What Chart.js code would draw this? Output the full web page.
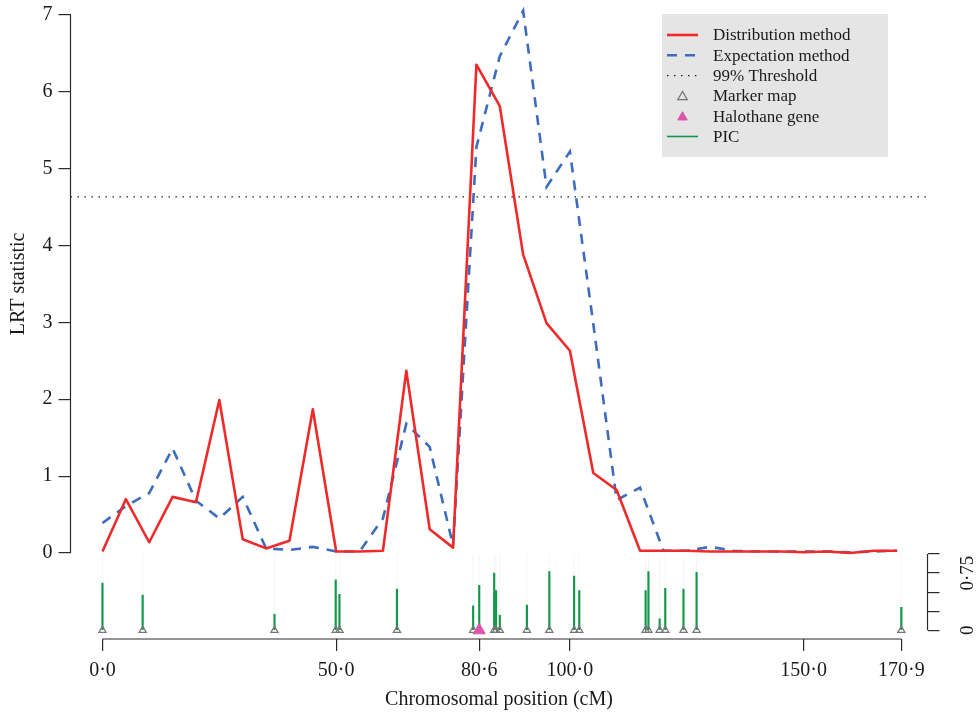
<!DOCTYPE html>
<html>
<head>
<meta charset="utf-8">
<title>LRT statistic along the chromosome</title>
<script src="https://cdn.jsdelivr.net/npm/chart.js@4.4.1/dist/chart.umd.min.js"></script>
<style>
  html, body { margin: 0; padding: 0; background: #fff; }
  #wrap { width: 976px; height: 714px; }
</style>
</head>
<body>
<div id="wrap"><canvas id="lrtChart" width="976" height="714"></canvas></div>
<script>
// test positions (cM)
const positions = [0, 5, 10, 15, 20, 25, 30, 35, 40, 45, 50, 55, 60, 65, 70, 75, 80, 85,
    90, 95, 100, 105, 110, 115, 120, 125, 130, 135, 140, 145, 150, 155, 160, 165, 170];
const distribution = [0.02, 0.70, 0.14, 0.73, 0.66, 1.99, 0.18, 0.06, 0.16, 1.87, 0.02, 0.02,
    0.03, 2.37, 0.31, 0.07, 6.35, 5.81, 3.88, 2.99, 2.63, 1.04, 0.82, 0.03, 0.03, 0.03, 0.02,
    0.02, 0.02, 0.02, 0.01, 0.02, 0.00, 0.03, 0.03];
const expectation = [0.39, 0.61, 0.78, 1.36, 0.68, 0.45, 0.73, 0.06, 0.04, 0.08, 0.02, 0.02,
    0.45, 1.68, 1.38, 0.10, 5.28, 6.46, 7.05, 4.76, 5.22, 2.98, 0.69, 0.85, 0.03, 0.03, 0.08,
    0.03, 0.02, 0.02, 0.02, 0.02, 0.01, 0.02, 0.03];
const threshold = 4.63;

// marker map and PIC of each marker
const markerPos = [0.0, 8.6, 36.8, 49.9, 50.7, 63.0, 79.3, 80.6, 83.8, 84.2, 85.0, 90.8,
    95.6, 100.9, 102.0, 116.2, 116.8, 119.2, 120.4, 124.3, 127.1, 170.9];
const picValues = [0.62, 0.46, 0.21, 0.66, 0.47, 0.54, 0.32, 0.59, 0.75, 0.52, 0.20, 0.33,
    0.77, 0.71, 0.52, 0.52, 0.77, 0.15, 0.55, 0.54, 0.76, 0.30];
const picMax = 1;
const halothanePos = [80.6];

// axis ticks
const xTicks = [0, 50, 80.6, 100, 150, 170.9];
const lrtTicks = [0, 1, 2, 3, 4, 5, 6, 7];
const picTicks = [0, 0.25, 0.5, 0.75, 1];
const picTickLabels = ['0', '', '', '0\u00b775', ''];

// axis limits (R style: 4% extra on the left of the map)
const xMin = -6.84, xMax = 176.5;
const lrtMin = -1.118, lrtMax = 7.191;
const picMin = -0.114, picAxisMax = 8.26;

const serif = '"Liberation Serif", "Times New Roman", serif';
const axisColor = '#2b2b2b';
Chart.defaults.font.family = serif;
Chart.defaults.font.size = 20;
Chart.defaults.color = '#1a1a1a';

function xy(xs, ys) {
    return xs.map(function (v, i) { return { x: v, y: ys[i] }; });
}

function fixedWidth(w) {
    return function (scale) {
        scale.width = w;
        scale.paddingTop = scale.paddingBottom = scale.paddingLeft = scale.paddingRight = 0;
    };
}

/* axis lines that only run from first to last tick, plus the y title */
const rAxes = {
    id: 'rAxes',
    afterDraw(chart) {
        const { ctx, chartArea, scales } = chart;
        ctx.save();
        ctx.strokeStyle = axisColor;
        ctx.lineWidth = 1.2;
        ctx.beginPath();
        ctx.moveTo(scales.x.getPixelForValue(xTicks[0]), chartArea.bottom);
        ctx.lineTo(scales.x.getPixelForValue(xTicks[xTicks.length - 1]), chartArea.bottom);
        ctx.moveTo(chartArea.left, scales.y.getPixelForValue(lrtTicks[0]));
        ctx.lineTo(chartArea.left, scales.y.getPixelForValue(lrtTicks[lrtTicks.length - 1]));
        ctx.moveTo(chartArea.right, scales.y2.getPixelForValue(picTicks[0]));
        ctx.lineTo(chartArea.right, scales.y2.getPixelForValue(picTicks[picTicks.length - 1]));
        ctx.stroke();

        const midY = (scales.y.getPixelForValue(0) + scales.y.getPixelForValue(7)) / 2;
        ctx.translate(19, midY);
        ctx.rotate(-Math.PI / 2);
        ctx.fillStyle = '#1a1a1a';
        ctx.font = '20px ' + serif;
        ctx.textAlign = 'center';
        ctx.textBaseline = 'middle';
        ctx.fillText('LRT statistic', 0, 0);
        ctx.restore();
    }
};

/* grey legend box in the top right corner */
const legendOrder = [0, 1, 2, 4, 3, 5];
const insetLegend = {
    id: 'insetLegend',
    afterDraw(chart) {
        const ctx = chart.ctx;
        ctx.save();
        ctx.fillStyle = '#e5e5e5';
        ctx.fillRect(662, 14, 226, 143);
        legendOrder.forEach(function (idx, row) {
            const ds = chart.data.datasets[idx];
            const y = 35 + row * 20.3;
            ctx.save();
            if (ds.pointStyle === 'triangle') {
                ctx.strokeStyle = ds.pointBorderColor;
                ctx.fillStyle = ds.pointBackgroundColor;
                ctx.lineWidth = ds.pointBorderWidth;
                Chart.helpers.drawPoint(ctx, { pointStyle: 'triangle', radius: 5.5, borderWidth: ds.pointBorderWidth }, 682.5, y + 1);
            } else {
                ctx.strokeStyle = ds.type === 'bar' ? ds.backgroundColor : ds.borderColor;
                ctx.lineWidth = ds.type === 'bar' ? 1.6 : ds.borderWidth;
                ctx.setLineDash(ds.borderDash || []);
                ctx.beginPath();
                ctx.moveTo(667, y);
                ctx.lineTo(698, y);
                ctx.stroke();
            }
            ctx.restore();
            ctx.fillStyle = '#1a1a1a';
            ctx.font = '17px ' + serif;
            ctx.textBaseline = 'middle';
            ctx.fillText(ds.label, 713, y + 1);
        });
        ctx.restore();
    }
};

const ctx = document.getElementById('lrtChart').getContext('2d');
const lrtChart = new Chart(ctx, {
    type: 'line',
    data: {
        datasets: [{
            label: 'Distribution method',
            data: xy(positions, distribution),
            borderColor: '#ee2a2a',
            borderWidth: 2.6,
            borderJoinStyle: 'round',
            pointRadius: 0,
            yAxisID: 'y'
        }, {
            label: 'Expectation method',
            data: xy(positions, expectation),
            borderColor: '#3d6cbc',
            borderWidth: 2.6,
            borderDash: [10, 8],
            pointRadius: 0,
            yAxisID: 'y'
        }, {
            label: '99% Threshold',
            data: [{ x: xMin, y: threshold }, { x: xMax, y: threshold }],
            borderColor: '#111',
            borderWidth: 1.3,
            borderDash: [1.4, 5.6],
            pointRadius: 0,
            yAxisID: 'y'
        }, {
            label: 'Halothane gene',
            data: halothanePos.map(function (p) { return { x: p, y: 0 }; }),
            showLine: false,
            pointStyle: 'triangle',
            pointRadius: 7,
            pointBorderWidth: 1,
            pointBorderColor: '#dd55aa',
            pointBackgroundColor: '#dd55aa',
            yAxisID: 'y2'
        }, {
            label: 'Marker map',
            data: markerPos.map(function (p) { return { x: p, y: 0 }; }),
            showLine: false,
            pointStyle: 'triangle',
            pointRadius: 4.2,
            pointBorderWidth: 1.2,
            pointBorderColor: '#767676',
            pointBackgroundColor: 'rgba(255,255,255,0)',
            yAxisID: 'y2'
        }, {
            type: 'bar',
            label: 'PIC',
            data: xy(markerPos, picValues),
            backgroundColor: '#13984a',
            barThickness: 1.5,
            yAxisID: 'y2'
        }, {
            type: 'bar',
            label: '',
            data: markerPos.map(function (p) { return { x: p, y: picMax }; }),
            backgroundColor: 'rgba(0,0,0,0.045)',
            grouped: false,
            maxBarThickness: 1,
            yAxisID: 'y2'
        }]
    },
    options: {
        responsive: false,
        animation: false,
        events: [],
        layout: { padding: 0, autoPadding: false },
        plugins: {
            legend: { display: false },
            tooltip: { enabled: false }
        },
        scales: {
            x: {
                type: 'linear',
                position: 'bottom',
                min: xMin,
                max: xMax,
                offset: false,
                afterBuildTicks: function (scale) {
                    scale.ticks = xTicks.map(function (v) { return { value: v }; });
                },
                afterFit: function (scale) {
                    scale.height = 714 - 639;
                    scale.paddingLeft = scale.paddingRight = 0;
                },
                ticks: {
                    autoSkip: false,
                    maxRotation: 0,
                    minRotation: 0,
                    padding: 8,
                    callback: function (value) {
                        return value.toFixed(1).replace('.', '\u00b7');
                    }
                },
                grid: { display: true, offset: false, drawOnChartArea: false, drawTicks: true, tickLength: 12, color: axisColor, lineWidth: 1.2 },
                border: { display: false },
                title: {
                    display: true,
                    text: 'Chromosomal position (cM)',
                    font: { size: 20 },
                    padding: { top: 0, bottom: 2 }
                }
            },
            y: {
                type: 'linear',
                position: 'left',
                min: lrtMin,
                max: lrtMax,
                afterBuildTicks: function (scale) {
                    scale.ticks = lrtTicks.map(function (v) { return { value: v }; });
                },
                afterFit: fixedWidth(70.5),
                ticks: {
                    padding: 6,
                    callback: function (value) { return String(value); }
                },
                grid: { display: true, drawOnChartArea: false, drawTicks: true, tickLength: 12, color: axisColor, lineWidth: 1.2 },
                border: { display: false }
            },
            y2: {
                type: 'linear',
                position: 'right',
                min: picMin,
                max: picAxisMax,
                afterBuildTicks: function (scale) {
                    scale.ticks = picTicks.map(function (v) { return { value: v }; });
                },
                afterFit: fixedWidth(976 - 927.5),
                ticks: {
                    minRotation: 90,
                    maxRotation: 90,
                    crossAlign: 'center',
                    padding: 11,
                    font: { size: 19 },
                    callback: function (value, index) { return picTickLabels[index]; }
                },
                grid: { display: true, drawOnChartArea: false, drawTicks: true, tickLength: 12, color: axisColor, lineWidth: 1.2 },
                border: { display: false }
            }
        }
    },
    plugins: [rAxes, insetLegend]
});
</script>
</body>
</html>
